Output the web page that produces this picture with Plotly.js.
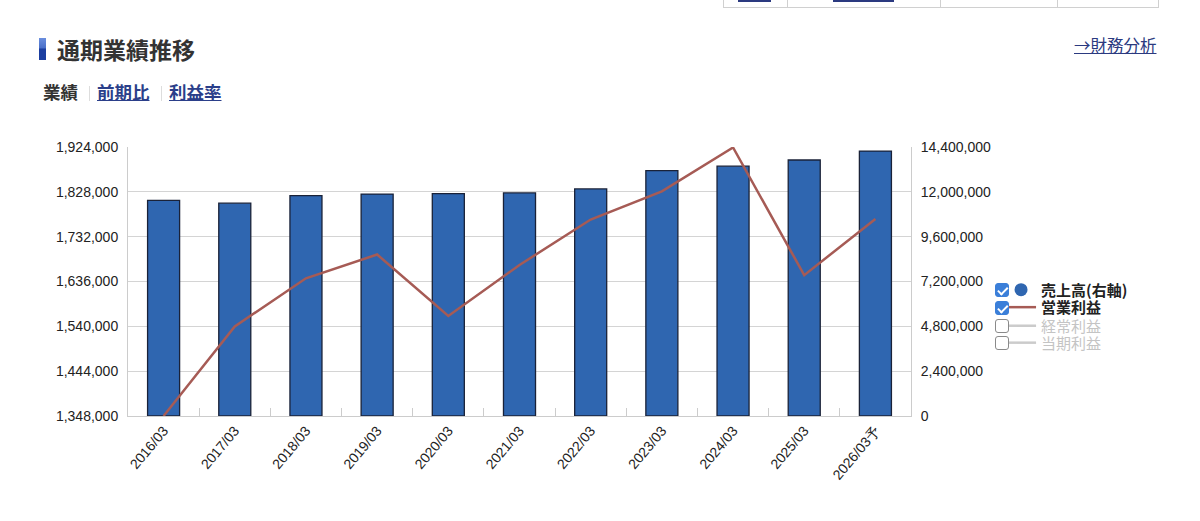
<!DOCTYPE html>
<html><head><meta charset="utf-8">
<script src="https://cdn.plot.ly/plotly-3.0.1.min.js"></script>
<style>
body{margin:0;background:#fff;}
#wrap{position:relative;width:1200px;height:521px;overflow:hidden;font-family:"Noto Sans CJK JP","Noto Sans",sans-serif;}
#chart{position:absolute;left:0;top:0;width:1200px;height:521px;}
.ov{position:absolute;white-space:nowrap;}
.cb{position:absolute;width:14px;height:14px;border-radius:3px;box-sizing:border-box;}
.cb.on{background:#3b7fd9;border:1px solid #3b7fd9;}
.cb.off{background:#fff;border:1.5px solid #8a8a8a;}
.cb.on:after{content:"";position:absolute;left:4px;top:1px;width:4px;height:7.5px;border:solid #fff;border-width:0 2px 2px 0;transform:rotate(45deg);}
</style></head>
<body>
<div id="wrap">
  <div id="chart"></div>
  <!-- top table fragment -->
  <div class="ov" style="left:723px;top:0;width:434px;height:7px;border:1px solid #d0d0d0;border-top:none;"></div>
  <div class="ov" style="left:787px;top:0;width:1px;height:7px;background:#d0d0d0;"></div>
  <div class="ov" style="left:940px;top:0;width:1px;height:7px;background:#d0d0d0;"></div>
  <div class="ov" style="left:1057px;top:0;width:1px;height:7px;background:#d0d0d0;"></div>
  <div class="ov" style="left:738px;top:0;width:33px;height:1.5px;background:#2b3a80;"></div>
  <div class="ov" style="left:833px;top:0;width:61px;height:1.5px;background:#2b3a80;"></div>
  <!-- header -->
  <div class="ov" style="left:39px;top:38px;width:7px;height:22px;background:linear-gradient(#6a8ede 0%,#4a6fc8 45%,#1b3ea0 50%,#1b3ea0 100%);"></div>
  <div class="ov" style="left:57px;top:33px;font-size:23px;font-weight:bold;color:#333;line-height:32px;">通期業績推移</div>
  <div class="ov" style="left:1074px;top:33px;font-size:16.5px;color:#2b3a80;text-decoration:underline;line-height:24px;">→財務分析</div>
  <div class="ov" style="left:43px;top:80px;font-size:17.5px;font-weight:bold;color:#333;line-height:24px;">業績</div>
  <div class="ov" style="left:89px;top:86px;width:1px;height:15px;background:#ddd;"></div>
  <div class="ov" style="left:97px;top:80px;font-size:17.5px;font-weight:bold;color:#2b3f8a;text-decoration:underline;line-height:24px;">前期比</div>
  <div class="ov" style="left:161px;top:86px;width:1px;height:15px;background:#ddd;"></div>
  <div class="ov" style="left:169px;top:80px;font-size:17.5px;font-weight:bold;color:#2b3f8a;text-decoration:underline;line-height:24px;">利益率</div>
  <!-- legend checkboxes -->
  <div class="cb on" style="left:995px;top:283px;"></div>
  <div class="cb on" style="left:995px;top:301px;"></div>
  <div class="cb off" style="left:995px;top:319px;"></div>
  <div class="cb off" style="left:995px;top:336px;"></div>
</div>
<script>
// data (millions of yen)
const categories = ["2016/03","2017/03","2018/03","2019/03","2020/03","2021/03","2022/03","2023/03","2024/03","2025/03","2026/03予"];
const sales = [11541000, 11391016, 11799587, 11879842, 11899415, 11943966, 12156447, 13136194, 13374569, 13704727, 14180000];
const operatingProfit = [1348149, 1539789, 1642828, 1693833, 1562204, 1671391, 1768624, 1828986, 1922910, 1649612, 1770000];
const leftTicks = [1348000, 1444000, 1540000, 1636000, 1732000, 1828000, 1924000];
const rightTicks = [0, 2400000, 4800000, 7200000, 9600000, 12000000, 14400000];
const seriesNames = ["売上高(右軸)", "営業利益", "経常利益", "当期利益"];

const fmt = v => v.toLocaleString("en-US");
const gray = s => '<span style="color:#8a8a8a;font-weight:normal">' + s + '</span>';

const traces = [
  // sales bars on the base (right-side) axis
  {type:"bar", x:categories, y:sales, yaxis:"y", name:seriesNames[0], showlegend:false,
   width:0.45, marker:{color:"#2f66b0", line:{color:"#1a2238", width:1.3}}, hoverinfo:"x+y"},
  // legend entry for sales (circle marker)
  {type:"scatter", mode:"markers", x:[null], y:[null], yaxis:"y", name:seriesNames[0], legend:"legend",
   marker:{symbol:"circle", size:13, color:"#2f66b0"}},
  // operating profit line on the overlaying left axis (drawn above bars)
  {type:"scatter", mode:"lines", x:categories, y:operatingProfit, yaxis:"y2", name:seriesNames[1], legend:"legend2",
   line:{color:"#a65b55", width:2.5}},
  {type:"scatter", mode:"lines", x:[null], y:[null], yaxis:"y2", name:gray(seriesNames[2]), legend:"legend3",
   visible:"legendonly", line:{color:"#999999", width:2.5}},
  {type:"scatter", mode:"lines", x:[null], y:[null], yaxis:"y2", name:gray(seriesNames[3]), legend:"legend4",
   visible:"legendonly", line:{color:"#999999", width:2.5}}
];

const tickFont = {family:"Liberation Sans, Arial, sans-serif", size:14, color:"#222"};
const legendBase = y => ({x:1.115, xanchor:"left", y:y, yanchor:"top", bgcolor:"rgba(0,0,0,0)",
  font:{family:"Noto Sans CJK JP, sans-serif", size:15, color:"#222", weight:"bold"},
  itemwidth:30, traceorder:"normal", tracegroupgap:0});

const layout = {
  width:1200, height:521,
  margin:{l:128, r:289, t:147, b:105, pad:0},
  paper_bgcolor:"#fff", plot_bgcolor:"#fff",
  showlegend:true,
  legend:legendBase(0.530),
  legend2:legendBase(0.465),
  legend3:legendBase(0.396),
  legend4:legendBase(0.333),
  xaxis:{type:"category", categoryorder:"array", categoryarray:categories,
         tickangle:-50, tickfont:tickFont, showgrid:false,
         ticks:"inside", tickson:"boundaries", ticklen:8, tickcolor:"#cccccc",
         showline:true, linecolor:"#cccccc", linewidth:1, fixedrange:true},
  yaxis:{side:"right", range:[rightTicks[0], rightTicks[rightTicks.length-1]],
         tickvals:rightTicks, ticktext:rightTicks.map(fmt), tickfont:tickFont,
         showgrid:true, gridcolor:"#d4d4d4", gridwidth:1,
         showline:true, linecolor:"#cccccc", ticks:"", ticklabelstandoff:6, zeroline:false, fixedrange:true},
  yaxis2:{overlaying:"y", side:"left", range:[leftTicks[0], leftTicks[leftTicks.length-1]],
          tickvals:leftTicks, ticktext:leftTicks.map(fmt), tickfont:tickFont, showgrid:false,
          showline:true, linecolor:"#cccccc", ticks:"", ticklabelstandoff:6, zeroline:false, fixedrange:true},
  barmode:"overlay"
};

Plotly.newPlot("chart", traces, layout, {displayModeBar:false, staticPlot:true});
</script>
</body></html>
